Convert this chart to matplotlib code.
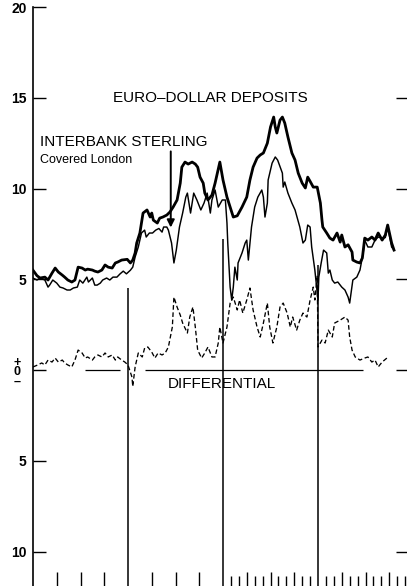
import numpy as np
import matplotlib.pyplot as plt

# Euro-dollar deposits vs covered interbank sterling, with the differential
# x axis in months from the start of the first year

euro_months = [0, 0.5, 0.9, 1.5, 1.9, 2.4, 2.8, 3.2, 3.7, 4.0, 4.4, 4.9, 5.3, 5.7, 6.2, 6.6, 6.9,
               7.5, 7.8, 8.2, 8.7, 9.1, 9.5, 10.0, 10.4, 10.7, 11.2, 11.9, 12.3, 12.6, 12.9, 13.1,
               13.5, 13.9, 14.4, 14.8, 15.0, 15.2, 15.7, 16.0, 16.4, 16.9, 17.3, 17.7, 18.2, 18.6,
               18.8, 19.2, 19.6, 20.1, 20.5, 20.8, 21.1, 21.5, 21.7, 22.1, 22.6, 23.0, 23.6, 24.0,
               24.5, 24.9, 25.3, 25.8, 26.4, 27.0, 27.4, 27.8, 28.3, 28.7, 29.1, 29.6, 30.0, 30.4,
               30.6, 30.8, 31.2, 31.5, 31.8, 32.2, 32.7, 33.1, 33.5, 34.0, 34.4, 34.7, 35.0, 35.4,
               35.9, 36.3, 36.5, 36.6, 37.1, 37.5, 37.9, 38.4, 38.8, 39.0, 39.4, 39.8, 40.3, 40.4,
               40.9, 41.3, 41.6, 41.9, 42.3, 42.8, 43.2, 43.6, 44.1, 44.5, 44.8, 45.3, 45.6]
euro_rate = [5.5, 5.2, 5.07, 5.12, 4.96, 5.34, 5.62, 5.4, 5.23, 5.12, 4.96, 4.85, 4.96, 5.67, 5.62,
             5.51, 5.56, 5.51, 5.45, 5.40, 5.51, 5.79, 5.67, 5.62, 5.90, 5.95, 6.06, 6.1, 5.9, 6.06,
             6.45, 7.0, 7.55, 8.65, 8.82, 8.43, 8.65, 8.26, 8.1, 8.37, 8.43, 8.54, 8.71, 8.98, 9.37,
             10.3, 11.18, 11.46, 11.35, 11.46, 11.35, 11.18, 10.63, 10.3, 9.75, 9.37, 9.64, 10.3,
             11.46, 10.47, 9.53, 8.98, 8.43, 8.5, 8.98, 9.53, 10.47, 11.18, 11.68, 11.85, 11.96,
             12.5, 13.39, 13.94, 13.39, 13.06, 13.77, 13.94, 13.61, 12.84, 11.96, 11.57, 10.85,
             10.3, 10.03, 10.63, 10.4, 10.08, 10.08, 9.2, 8.26, 7.88, 7.55, 7.27, 7.16, 7.55, 7.05,
             7.44, 6.78, 6.9, 6.5, 6.06, 5.95, 5.9, 6.17, 7.27, 7.16, 7.33, 7.16, 7.55, 7.16, 7.44,
             7.99, 7.0, 6.61]

sterling_months = [0, 0.5, 0.9, 1.5, 1.9, 2.1, 2.5, 3.0, 3.4, 3.8, 4.3, 4.7, 5.1, 5.6, 5.9, 6.3,
                   6.8, 7.0, 7.5, 7.8, 8.1, 8.5, 8.8, 9.3, 9.7, 10.1, 10.6, 11.0, 11.4, 11.8, 12.3,
                   12.6, 12.9, 13.3, 13.7, 14.1, 14.3, 14.7, 15.1, 15.5, 15.9, 16.3, 16.5, 16.9,
                   17.1, 17.5, 17.8, 18.1, 18.5, 18.9, 19.3, 19.5, 19.7, 19.9, 20.3, 20.7, 21.2,
                   21.6, 22.0, 22.4, 22.6, 23.0, 23.4, 23.9, 24.3, 24.5, 24.6, 24.9, 25.1, 25.3,
                   25.5, 25.8, 25.9, 26.4, 26.8, 27.0, 27.2, 27.6, 28.0, 28.4, 28.9, 29.1, 29.3,
                   29.6, 29.7, 30.2, 30.6, 30.9, 31.5, 31.6, 31.8, 32.2, 32.7, 33.1, 33.7, 34.1,
                   34.4, 34.7, 35.0, 35.2, 35.6, 35.9, 36.0, 36.1, 36.4, 36.7, 37.1, 37.3, 37.5,
                   37.8, 38.1, 38.5, 39.0, 39.4, 39.8, 40.0, 40.4, 40.9, 41.3, 41.7, 41.9, 42.3,
                   42.8, 43.2, 43.6, 44.1, 44.5, 44.8, 45.3, 45.6]
sterling_rate = [5.07, 4.96, 5.07, 4.96, 4.57, 4.68, 4.96, 4.79, 4.57, 4.52, 4.41, 4.41, 4.52, 4.57,
                 4.96, 4.79, 5.12, 4.85, 5.07, 4.68, 4.68, 4.79, 4.96, 5.07, 4.96, 5.12, 5.12, 5.3,
                 5.45, 5.3, 5.5, 5.67, 6.23, 6.78, 7.55, 7.71, 7.33, 7.55, 7.55, 7.71, 7.8, 7.6,
                 7.88, 7.88, 7.71, 7.0, 5.9, 6.61, 7.88, 8.65, 9.53, 9.75, 9.2, 8.65, 9.75, 9.37,
                 8.82, 9.2, 9.75, 8.65, 9.37, 9.92, 8.98, 9.37, 9.37, 8.1, 7.0, 4.57, 3.86, 4.57,
                 5.67, 4.96, 5.9, 6.45, 7.0, 7.16, 6.06, 7.88, 8.98, 9.53, 9.92, 9.53, 8.43, 9.2,
                 10.47, 11.4, 11.74, 11.57, 10.85, 10.08, 10.36, 9.75, 9.2, 8.82, 7.88, 7.0, 7.16,
                 7.99, 7.88, 6.78, 5.51, 4.24, 3.86, 5.12, 5.9, 6.61, 6.45, 5.34, 5.51, 4.96, 4.79,
                 4.85, 4.57, 4.41, 4.02, 3.69, 4.96, 5.12, 5.51, 6.45, 7.16, 6.78, 6.78, 7.16, 7.33,
                 7.27, 7.3, 7.88, 6.78, 6.61]

diff_months = [0, 0.6, 1.1, 1.5, 1.9, 2.4, 2.8, 3.2, 3.7, 4.0, 4.4, 4.9, 5.3, 5.7, 6.2, 6.6, 6.9,
               7.5, 7.8, 8.2, 8.7, 9.1, 9.5, 10.0, 10.4, 10.7, 11.2, 11.6, 12.0, 12.5, 12.6, 12.9,
               13.3, 13.8, 14.1, 14.5, 15.0, 15.4, 15.8, 16.3, 16.7, 17.1, 17.6, 17.8, 18.2, 18.6,
               18.9, 19.5, 19.8, 20.2, 20.5, 20.8, 21.3, 21.7, 22.1, 22.6, 23.0, 23.4, 23.6, 24.0,
               24.5, 24.9, 25.3, 25.8, 26.1, 26.5, 27.0, 27.4, 27.8, 28.3, 28.7, 29.1, 29.6, 29.9,
               30.3, 30.8, 31.2, 31.6, 32.1, 32.5, 32.8, 33.3, 33.7, 34.1, 34.6, 35.0, 35.4, 35.6,
               35.9, 36.0, 36.5, 36.9, 37.3, 37.8, 38.1, 38.8, 39.4, 39.8, 40.0, 40.3, 40.7, 41.3,
               41.9, 42.3, 42.8, 43.2, 43.6, 44.1, 44.7]
diff_rate = [0.17, 0.28, 0.39, 0.28, 0.55, 0.44, 0.66, 0.44, 0.55, 0.39, 0.28, 0.17, 0.55, 1.1,
             0.94, 0.66, 0.72, 0.55, 0.72, 0.83, 0.72, 0.94, 0.72, 0.83, 0.55, 0.72, 0.55, 0.44,
             0.28, -0.39, -0.9, 0.17, 0.94, 0.72, 1.21, 1.27, 0.99, 0.66, 0.94, 0.83, 0.94, 1.27,
             2.37, 4.02, 3.47, 3.03, 2.59, 2.04, 2.92, 3.47, 2.37, 1.1, 0.66, 0.94, 1.27, 0.72,
             0.72, 1.49, 2.37, 1.49, 2.37, 3.69, 4.02, 3.31, 3.86, 3.14, 3.86, 4.52, 3.31, 2.37,
             1.82, 2.59, 3.69, 2.37, 1.49, 2.37, 3.47, 3.69, 3.14, 2.37, 2.92, 2.2, 2.75, 3.14,
             2.92, 3.86, 4.57, 3.86, 5.2, 1.27, 1.65, 1.49, 2.2, 1.82, 2.59, 2.75, 2.92, 2.75,
             1.82, 1.1, 0.72, 0.55, 0.66, 0.72, 0.44, 0.55, 0.17, 0.44, 0.66]

y_ticks = [-10, -5, 0, 5, 10, 15, 20]
y_labels = ['10', '5', '', '5', '10', '15', '20']
year_ends = [12, 24, 36]
year_line_tops = [4.5, 7.2, 5.8]

y_lo, y_hi = -11.9, 20.39

plt.rcParams['font.family'] = ['Liberation Sans', 'DejaVu Sans']

fig = plt.figure(figsize=(4.07, 5.86), dpi=100)
ax = fig.add_axes([33 / 407, 0, 1 - 33 / 407, 1])

ax.plot(euro_months, euro_rate, color='black', lw=2.0, solid_joinstyle='round')
ax.plot(sterling_months, sterling_rate, color='black', lw=1.05)
ax.plot(diff_months, diff_rate, color='black', lw=0.95, dashes=(3.5, 2))

# zero line of the differential
ax.hlines(0, 6.6, 11.0, color='black', lw=0.9)
ax.hlines(0, 14.1, 41.7, color='black', lw=0.9)

# year separators
ax.vlines(year_ends, y_lo, year_line_tops, color='black', lw=1.1)

ax.set_xlim(0, 47.24)
ax.set_ylim(y_lo, y_hi)

for s in ['top', 'right', 'bottom']:
    ax.spines[s].set_visible(False)
ax.spines['left'].set_bounds(y_lo, 20)
ax.spines['left'].set_linewidth(1.2)

ax.set_yticks(y_ticks)
ax.set_yticklabels(y_labels, fontsize=10, fontweight='bold')
ax.tick_params(axis='y', direction='in', length=9, width=1, pad=4.5)

quarter_ticks = [3, 6, 9, 15, 18, 21, 27, 30, 33, 39, 42, 45]
month_ticks = [25, 26, 28, 29, 31, 32, 34, 35, 37, 38, 40, 41, 43, 44, 46, 47]
ax.set_xticks(quarter_ticks)
ax.set_xticks(month_ticks, minor=True)
ax.set_xticklabels([])
ax.tick_params(axis='x', which='major', direction='in', length=10, width=1)
ax.tick_params(axis='x', which='minor', direction='in', length=7.5, width=1)

# short ticks on the right edge
ax2 = ax.twinx()
ax2.set_ylim(y_lo, y_hi)
ax2.set_yticks([-10, 0, 5, 10, 15])
ax2.set_yticklabels([])
ax2.tick_params(axis='y', direction='in', length=8, width=1)
for s in ax2.spines.values():
    s.set_visible(False)

# zero label with + and - signs, stacked as one text
tr = ax.get_yaxis_transform()
ax.text(-0.043, -0.12, '+\n0\n\u2013', transform=tr, ha='center', va='center',
        fontsize=9, fontweight='bold', linespacing=0.68)

ax.text(22.4, 15.0, 'EURO\u2013DOLLAR DEPOSITS', ha='center', va='center', fontsize=11)
ax.text(0.9, 12.55, 'INTERBANK STERLING', ha='left', va='center', fontsize=11)
ax.text(0.9, 11.6, 'Covered London', ha='left', va='center', fontsize=9)
ax.text(23.9, -0.75, 'DIFFERENTIAL', ha='center', va='center', fontsize=11)

ax.annotate('', xy=(17.4, 7.7), xytext=(17.4, 12.2),
            arrowprops=dict(arrowstyle='-|>', color='black', lw=1.4, mutation_scale=11))

fig.savefig('out.png', dpi=100)
